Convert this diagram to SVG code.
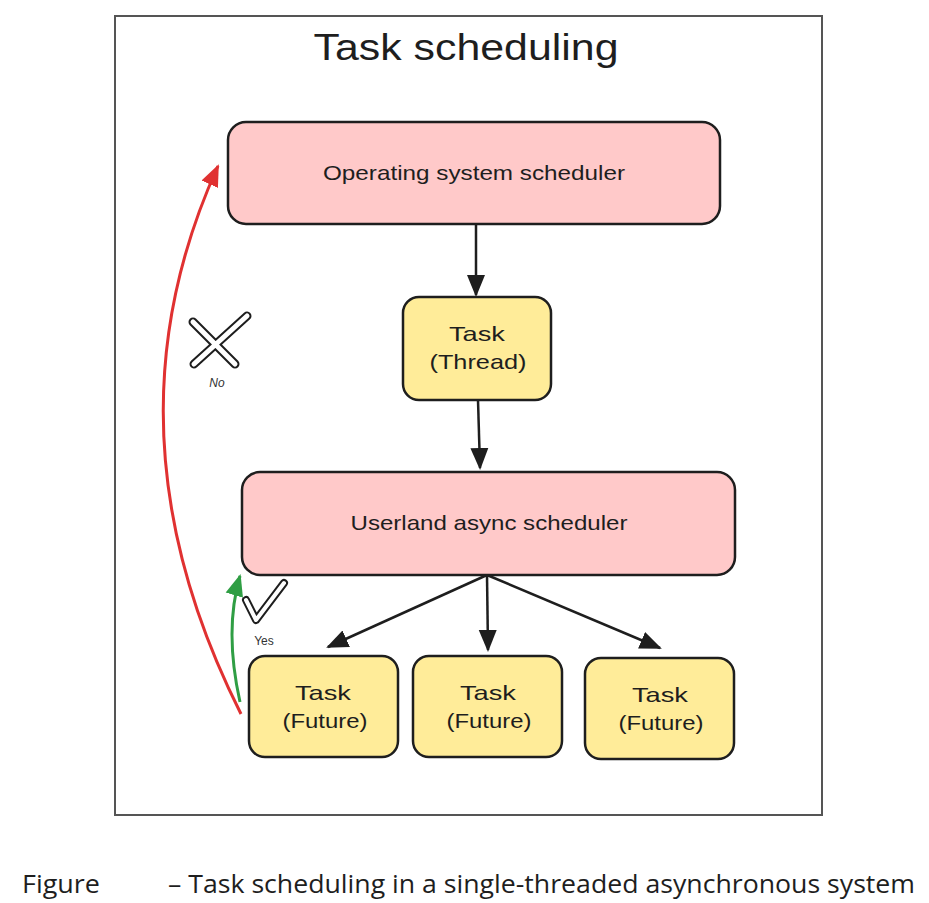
<svg xmlns="http://www.w3.org/2000/svg" width="929" height="903" viewBox="0 0 929 903">
<style>
.node rect{stroke:#1e1e1e;stroke-width:2.5}
.pink rect{fill:#ffc9c9}
.yellow rect{fill:#ffec99}
.lbl{font-family:"Liberation Sans",sans-serif;font-size:21px;fill:#1e1e1e;text-anchor:middle}
.conn{fill:none;stroke:#1e1e1e;stroke-width:2.5}
.small{font-family:"Liberation Sans",sans-serif;font-size:12px;fill:#333;text-anchor:middle}
.cap{font-family:"Open Sans","Liberation Sans",sans-serif;font-size:25px;fill:#1e1e1e}
</style>
<defs>
<marker id="ahBig" markerWidth="22" markerHeight="22" refX="20" refY="11" orient="auto" markerUnits="userSpaceOnUse" viewBox="0 0 22 22">
<path d="M0,2 L22,11 L0,20 z" fill="#1e1e1e"/>
</marker>
<marker id="ahRed" markerWidth="22" markerHeight="22" refX="20" refY="11" orient="auto" markerUnits="userSpaceOnUse" viewBox="0 0 22 22">
<path d="M0,2 L22,11 L0,20 z" fill="#e03131"/>
</marker>
<marker id="ahGreen" markerWidth="22" markerHeight="22" refX="20" refY="11" orient="auto" markerUnits="userSpaceOnUse" viewBox="0 0 22 22">
<path d="M0,2 L22,11 L0,20 z" fill="#2f9e44"/>
</marker>
</defs>
<rect x="0" y="0" width="929" height="903" fill="#ffffff"/>
<rect id="frame" x="115" y="16" width="707" height="799" fill="#ffffff" stroke="#555555" stroke-width="2"/>
<text x="466" y="60" font-family="'Liberation Sans',sans-serif" font-size="36" fill="#1e1e1e" text-anchor="middle" textLength="305" lengthAdjust="spacingAndGlyphs">Task scheduling</text>

<g id="connectors">
<path class="conn" d="M476,224 L476,295" marker-end="url(#ahBig)"/>
<path class="conn" d="M478,400 L480,468" marker-end="url(#ahBig)"/>
<path class="conn" d="M487,575 L328,647" marker-end="url(#ahBig)"/>
<path class="conn" d="M487,575 L488,650" marker-end="url(#ahBig)"/>
<path class="conn" d="M487,575 L660,648" marker-end="url(#ahBig)"/>
<path d="M241,714 Q98,430 218,166" fill="none" stroke="#e03131" stroke-width="3" marker-end="url(#ahRed)"/>
<path d="M240,702 Q224,630 240,576" fill="none" stroke="#2f9e44" stroke-width="3" marker-end="url(#ahGreen)"/>
</g>

<g id="os-scheduler" class="node pink">
<rect x="228" y="122" width="492" height="102" rx="18"/>
<text class="lbl" x="474" y="180" textLength="302" lengthAdjust="spacingAndGlyphs">Operating system scheduler</text>
</g>
<g id="task-thread" class="node yellow">
<rect x="403" y="297" width="148" height="103" rx="16"/>
<text class="lbl" x="477" y="341" textLength="56" lengthAdjust="spacingAndGlyphs">Task</text>
<text class="lbl" x="478" y="369" textLength="97" lengthAdjust="spacingAndGlyphs">(Thread)</text>
</g>
<g id="userland-scheduler" class="node pink">
<rect x="242" y="472" width="493" height="103" rx="18"/>
<text class="lbl" x="489" y="530" textLength="277" lengthAdjust="spacingAndGlyphs">Userland async scheduler</text>
</g>
<g id="future-1" class="node yellow">
<rect x="249" y="656" width="149" height="101" rx="16"/>
<text class="lbl" x="323" y="700" textLength="56" lengthAdjust="spacingAndGlyphs">Task</text>
<text class="lbl" x="325" y="728" textLength="85" lengthAdjust="spacingAndGlyphs">(Future)</text>
</g>
<g id="future-2" class="node yellow">
<rect x="413" y="656" width="149" height="101" rx="16"/>
<text class="lbl" x="488" y="700" textLength="56" lengthAdjust="spacingAndGlyphs">Task</text>
<text class="lbl" x="489" y="728" textLength="85" lengthAdjust="spacingAndGlyphs">(Future)</text>
</g>
<g id="future-3" class="node yellow">
<rect x="585" y="658" width="149" height="101" rx="16"/>
<text class="lbl" x="660" y="702" textLength="56" lengthAdjust="spacingAndGlyphs">Task</text>
<text class="lbl" x="661" y="730" textLength="85" lengthAdjust="spacingAndGlyphs">(Future)</text>
</g>

<g id="no-mark">
<path d="M193,322 L235,364 M247,316 L194,364" stroke="#1e1e1e" stroke-width="9" stroke-linecap="round" fill="none"/>
<path d="M193,322 L235,364 M247,316 L194,364" stroke="#ffffff" stroke-width="5" stroke-linecap="round" fill="none"/>
<text class="small" x="217" y="387" font-style="italic">No</text>
</g>
<g id="yes-mark">
<path d="M246,600 L256,620 L284,583" stroke="#1e1e1e" stroke-width="8" stroke-linecap="round" stroke-linejoin="round" fill="none"/>
<path d="M246,600 L256,620 L284,583" stroke="#ffffff" stroke-width="4" stroke-linecap="round" stroke-linejoin="round" fill="none"/>
<text class="small" x="264" y="645">Yes</text>
</g>

<text class="cap" x="22" y="893" textLength="78" lengthAdjust="spacingAndGlyphs">Figure</text>
<text class="cap" x="168" y="893" textLength="747" lengthAdjust="spacingAndGlyphs">– Task scheduling in a single-threaded asynchronous system</text>
</svg>
